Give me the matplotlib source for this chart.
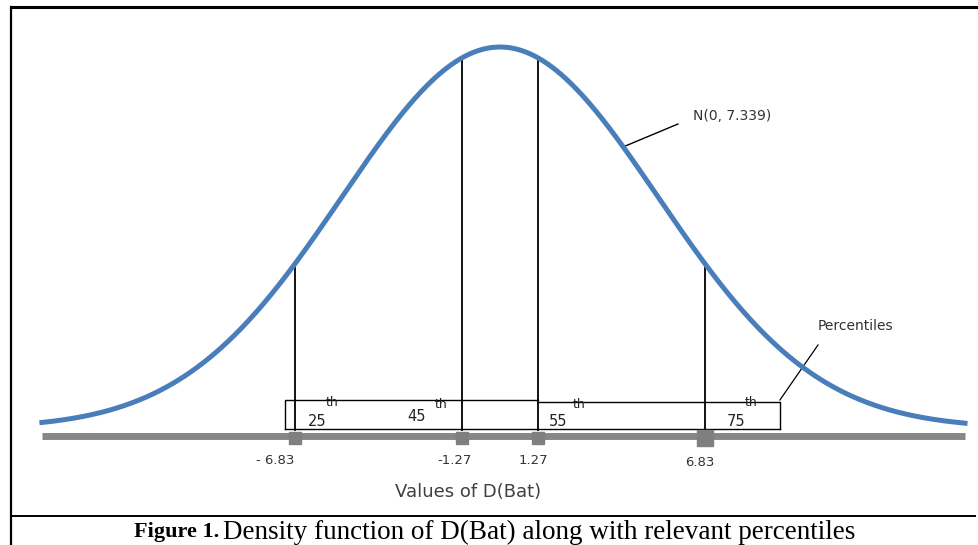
import numpy as np
import matplotlib.pyplot as plt

# percentile positions on the D(Bat) axis
pct_values = [-6.83, -1.27, 1.27, 6.83]
pct_names = ['25', '45', '55', '75']
tick_labels = ['- 6.83', '-1.27', '1.27', '6.83']
curve_label = 'N(0, 7.339)'
curve_sd = 5.27          # drawn width of the bell (axis units)
x_min, x_max = -15.27, 15.5

def bell(x):
    return 0.02 + 0.98 * np.exp(-0.5 * (np.asarray(x) / curve_sd) ** 2)

fig = plt.figure(figsize=(9.79, 5.45), dpi=100)
ax = fig.add_axes([0, 0, 1, 1])
ax.set_xlim(-500 / 30, 479 / 30)
ax.set_ylim(-109 / 389, 436 / 389)
ax.axis('off')

blue = '#4a7ebb'
gray = '#878787'

# axis bar
ax.plot([x_min, x_max], [0, 0], color=gray, lw=5, solid_capstyle='butt', zorder=1)

# density curve
t = np.linspace(x_min, x_max, 600)
ax.plot(t, bell(t), color=blue, lw=3.6, zorder=3)

# vertical lines at the percentiles
for v in pct_values:
    ax.plot([v, v], [0.015, bell(v)], color='black', lw=1.3, zorder=2)

# markers on the axis bar
sizes = [9, 9, 9, 11.5]
for v, s in zip(pct_values, sizes):
    ax.plot(v, -0.005, marker='s', ms=s, color='#7f7f7f', mec='#7f7f7f', zorder=4)

# percentile box
box_l, box_m, box_r = -7.17, pct_values[2], 9.33
ax.plot([box_l, box_l, box_m], [0.018, 0.0925, 0.0925], color='black', lw=1.0)
ax.plot([box_m, box_r, box_r], [0.087, 0.087, 0.018], color='black', lw=1.0)
ax.plot([box_l, box_r], [0.018, 0.018], color='black', lw=1.0)

num_pos = [(-6.1, 0.036), (-2.77, 0.051), (1.93, 0.036), (7.87, 0.036)]
th_pos = [(-5.6, 0.087), (-1.97, 0.082), (2.63, 0.082), (8.37, 0.087)]
for name, (nx, ny), (tx, ty) in zip(pct_names, num_pos, th_pos):
    ax.text(nx, ny, name, fontsize=10.5, ha='center', va='center', color='#222222')
    ax.text(tx, ty, 'th', fontsize=9, ha='center', va='center', color='#222222')

# tick labels
lab_pos = [(-7.5, -0.062), (-1.5, -0.062), (1.1, -0.062), (6.67, -0.067)]
for lab, (lx, ly) in zip(tick_labels, lab_pos):
    ax.text(lx, ly, lab, fontsize=9.5, ha='center', va='center', color='#333333')

ax.text(-1.07, -0.144, 'Values of D(Bat)', fontsize=13, ha='center', va='center',
        color='#404040')

# curve annotation
ax.plot([4.1, 5.93], [0.743, 0.802], color='black', lw=1.0)
ax.text(6.43, 0.823, curve_label, fontsize=10, ha='left', va='center', color='#333333')

# percentiles annotation
ax.plot([10.6, 9.33], [0.234, 0.0925], color='black', lw=0.9)
ax.text(10.6, 0.283, 'Percentiles', fontsize=10, ha='left', va='center', color='#333333')

# frame lines around the figure
W, H = 979, 545
fig.add_artist(plt.Line2D([11 / W, 1], [1 - 7 / H, 1 - 7 / H], color='black', lw=2.2))
fig.add_artist(plt.Line2D([11 / W, 11 / W], [1 - 7 / H, 0], color='black', lw=1.6))
fig.add_artist(plt.Line2D([11 / W, 975 / W], [1 - 516 / H, 1 - 516 / H], color='black', lw=1.4))

# caption
fig.text(134 / W, 1 - 532 / H, 'Figure 1.', fontsize=16, fontweight='bold',
         family='Liberation Serif', ha='left', va='center')
fig.text(223 / W, 1 - 532 / H, 'Density function of D(Bat) along with relevant percentiles',
         fontsize=19.5, family='Liberation Serif', ha='left', va='center')

fig.savefig('out.png', dpi=100)
